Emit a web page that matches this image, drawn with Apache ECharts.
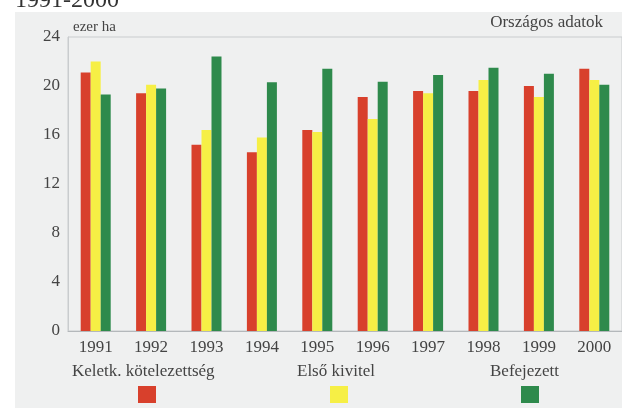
<!DOCTYPE html>
<html>
<head>
<meta charset="utf-8">
<script src="https://cdn.jsdelivr.net/npm/echarts@6/dist/echarts.min.js"></script>
<style>
  html,body{margin:0;padding:0;background:#fff;}
  #main{width:622px;height:408px;}
</style>
</head>
<body>
<div id="main"></div>
<script>
var years = ['1991','1992','1993','1994','1995','1996','1997','1998','1999','2000'];
var keletk = [21.1, 19.4, 15.2, 14.6, 16.4, 19.1, 19.6, 19.6, 20.0, 21.4];
var elso = [22.0, 20.1, 16.4, 15.8, 16.25, 17.3, 19.4, 20.5, 19.1, 20.5];
var befejezett = [19.3, 19.8, 22.4, 20.3, 21.4, 20.35, 20.9, 21.5, 21.0, 20.1];
var yTicks = [0, 4, 8, 12, 16, 20, 24];

var serif = 'Liberation Serif';
var colors = ['#d8402c', '#f6ef45', '#2e8a4c'];
var names = ['Keletk. kötelezettség', 'Első kivitel', 'Befejezett'];

var myChart = echarts.init(document.getElementById('main'));

// one legend per series, icon only (the names are drawn above as text)
function legendBox(name, left){
    return {
        data: [name],
        left: left,
        top: 381,
        icon: 'rect',
        itemWidth: 18,
        itemHeight: 17,
        selectedMode: false,
        formatter: function(){ return ''; },
        textStyle: {fontSize: 1}
    };
}

var option = {
    backgroundColor: '#fff',
    animation: false,
    color: colors,
    grid: {
        left: 68,
        top: 37,
        height: 294,
        width: 564,
        show: true,
        borderColor: '#c9ccce',
        borderWidth: 1,
        backgroundColor: 'transparent'
    },
    legend: [
        legendBox(names[0], 133),
        legendBox(names[1], 325),
        legendBox(names[2], 516)
    ],
    graphic: [
        {type: 'rect', z: -10, shape: {x: 15, y: 12, width: 620, height: 400}, style: {fill: '#eff0f0'}},
        {type: 'text', x: 15, y: -11, style: {text: '1991-2000', font: '24px "Liberation Serif"', fill: '#333'}},
        {type: 'text', x: 73, y: 20, style: {text: 'ezer ha', font: '15px "Liberation Serif"', fill: '#444'}},
        {type: 'text', x: 603, y: 14, style: {text: 'Országos adatok', font: '17px "Liberation Serif"', fill: '#444', textAlign: 'right'}},
        {type: 'text', x: 72, y: 363, style: {text: names[0], font: '17px "Liberation Serif"', fill: '#444'}},
        {type: 'text', x: 297, y: 363, style: {text: names[1], font: '17px "Liberation Serif"', fill: '#444'}},
        {type: 'text', x: 490, y: 363, style: {text: names[2], font: '17px "Liberation Serif"', fill: '#444'}}
    ],
    xAxis: {
        type: 'category',
        data: years,
        axisLine: {lineStyle: {color: '#b4b8bb'}},
        axisTick: {show: false},
        axisLabel: {fontFamily: serif, fontSize: 17, color: '#444', margin: 8}
    },
    yAxis: {
        type: 'value',
        min: yTicks[0],
        max: yTicks[yTicks.length - 1],
        interval: 4,
        axisLine: {show: true, lineStyle: {color: '#c9ccce'}},
        axisTick: {show: false},
        splitLine: {show: false},
        axisLabel: {fontFamily: serif, fontSize: 17, color: '#444', margin: 8}
    },
    series: [
        {name: names[0], type: 'bar', data: keletk, barWidth: 10, barGap: '0%'},
        {name: names[1], type: 'bar', data: elso, barWidth: 10, barGap: '0%'},
        {name: names[2], type: 'bar', data: befejezett, barWidth: 10, barGap: '0%'}
    ]
};
myChart.setOption(option);
</script>
</body>
</html>
